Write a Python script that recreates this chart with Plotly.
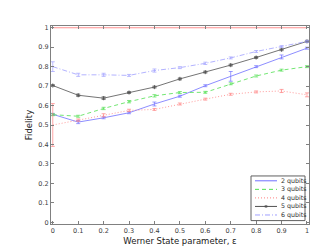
import plotly.graph_objects as go

eps = [0.0, 0.1, 0.2, 0.3, 0.4, 0.5, 0.6, 0.7, 0.8, 0.9, 1.0]
q2 = [0.555, 0.515, 0.537, 0.563, 0.608, 0.648, 0.702, 0.750, 0.800, 0.850, 0.895]
q2_err = [0.005, 0.008, 0.005, 0.005, 0.010, 0.005, 0.005, 0.025, 0.005, 0.010, 0.005]
q3 = [0.553, 0.545, 0.585, 0.620, 0.650, 0.667, 0.668, 0.712, 0.752, 0.782, 0.800]
q3_err = [0.005, 0.005, 0.006, 0.006, 0.006, 0.005, 0.005, 0.005, 0.005, 0.005, 0.005]
q4 = [0.500, 0.525, 0.550, 0.575, 0.580, 0.608, 0.633, 0.658, 0.670, 0.675, 0.655]
q4_err = [0.110, 0.006, 0.008, 0.006, 0.005, 0.005, 0.005, 0.005, 0.005, 0.008, 0.010]
q5 = [0.703, 0.653, 0.638, 0.667, 0.695, 0.737, 0.772, 0.808, 0.847, 0.887, 0.930]
q5_err = [0.005, 0.006, 0.007, 0.005, 0.005, 0.005, 0.005, 0.005, 0.005, 0.005, 0.005]
q6 = [0.800, 0.758, 0.758, 0.755, 0.780, 0.795, 0.817, 0.845, 0.878, 0.903, 0.930]
q6_err = [0.025, 0.008, 0.008, 0.005, 0.008, 0.005, 0.006, 0.005, 0.005, 0.005, 0.005]
ref_line = [1.0, 1.0, 1.0, 1.0, 1.0, 1.0, 1.0, 1.0, 1.0, 1.0, 1.0]

x_ticks = [0, 0.1, 0.2, 0.3, 0.4, 0.5, 0.6, 0.7, 0.8, 0.9, 1]
x_tick_labels = ["0", "0.1", "0.2", "0.3", "0.4", "0.5", "0.6", "0.7", "0.8", "0.9", "1"]
y_ticks = [0, 0.1, 0.2, 0.3, 0.4, 0.5, 0.6, 0.7, 0.8, 0.9, 1]
y_tick_labels = ["0", "0.1", "0.2", "0.3", "0.4", "0.5", "0.6", "0.7", "0.8", "0.9", "1"]

series_names = ["2 qubits", "3 qubits", "4 qubits", "5 qubits", "6 qubits"]
series_vals = [q2, q3, q4, q5, q6]
series_errs = [q2_err, q3_err, q4_err, q5_err, q6_err]
series_colors = ["#7070ff", "#50e050", "#ff8080", "#505050", "#a0a0ff"]
series_dash = ["solid", "4px,3px", "1px,2px", "solid", "5px,2px,1px,2px"]

fig = go.Figure()

fig.add_trace(go.Scatter(x=eps, y=ref_line, mode="lines", showlegend=False,
                         line=dict(color="#ff9090", width=1)))

for name, vals, err, col, dash in zip(series_names, series_vals, series_errs,
                                      series_colors, series_dash):
    mode = "lines+markers" if name == "5 qubits" else "lines"
    fig.add_trace(go.Scatter(
        x=eps, y=vals, name=name, mode=mode, showlegend=False,
        line=dict(color=col, width=0.8, dash=dash),
        marker=dict(symbol="cross-thin", size=3, line=dict(color=col, width=0.8)),
        error_y=dict(type="data", array=err, visible=True, color=col,
                     thickness=0.7, width=2),
    ))

axis_common = dict(showline=True, linecolor="#808080", linewidth=1, mirror="ticks",
                   ticks="inside", ticklen=3, tickcolor="#808080", tickwidth=1,
                   showgrid=False, zeroline=False,
                   tickfont=dict(family="DejaVu Sans", size=6.5, color="#404040"))

fig.update_xaxes(range=[-0.007, 1.008], tickvals=x_ticks, ticktext=x_tick_labels,
                 title=dict(text="Werner State parameter, ε", standoff=4,
                            font=dict(family="DejaVu Sans", size=8.5, color="#202020")),
                 **axis_common)
fig.update_yaxes(range=[-0.009, 1.009], tickvals=y_ticks, ticktext=y_tick_labels,
                 title=dict(text="Fidelity", standoff=4,
                            font=dict(family="DejaVu Sans", size=8.5, color="#202020")),
                 **axis_common)

# manual compact legend (MATLAB style)
W, H, L, T = 258.0, 204.0, 43.0, 18.0
def px(xp):
    return (xp - L) / W
def py(yp):
    return (H + T - yp) / H

shapes = [dict(type="rect", xref="paper", yref="paper",
               x0=px(243), x1=px(297), y0=py(218.5), y1=py(172.5),
               line=dict(color="#606060", width=1), fillcolor="white", layer="above")]
annotations = []
row_y = [177.5, 186.3, 195.1, 203.9, 212.7]
for name, col, dash, ry in zip(series_names, series_colors, series_dash, row_y):
    shapes.append(dict(type="line", xref="paper", yref="paper",
                       x0=px(247), x1=px(269), y0=py(ry), y1=py(ry),
                       line=dict(color=col, width=1, dash=dash), layer="above"))
    if name == "5 qubits":
        shapes.append(dict(type="line", xref="paper", yref="paper",
                           x0=px(256.5), x1=px(259.5), y0=py(ry), y1=py(ry),
                           line=dict(color=col, width=1.6), layer="above"))
        shapes.append(dict(type="line", xref="paper", yref="paper",
                           x0=px(258), x1=px(258), y0=py(ry - 1.5), y1=py(ry + 1.5),
                           line=dict(color=col, width=0.8), layer="above"))
    annotations.append(dict(xref="paper", yref="paper", x=px(270.5), y=py(ry),
                            xanchor="left", yanchor="middle", showarrow=False,
                            text=name,
                            font=dict(family="DejaVu Sans", size=6.3, color="#303030")))

fig.update_layout(
    width=332, height=249,
    margin=dict(l=43, r=31, t=18, b=27),
    paper_bgcolor="white", plot_bgcolor="white",
    showlegend=False,
    shapes=shapes, annotations=annotations,
)

fig.write_html("out.html")
